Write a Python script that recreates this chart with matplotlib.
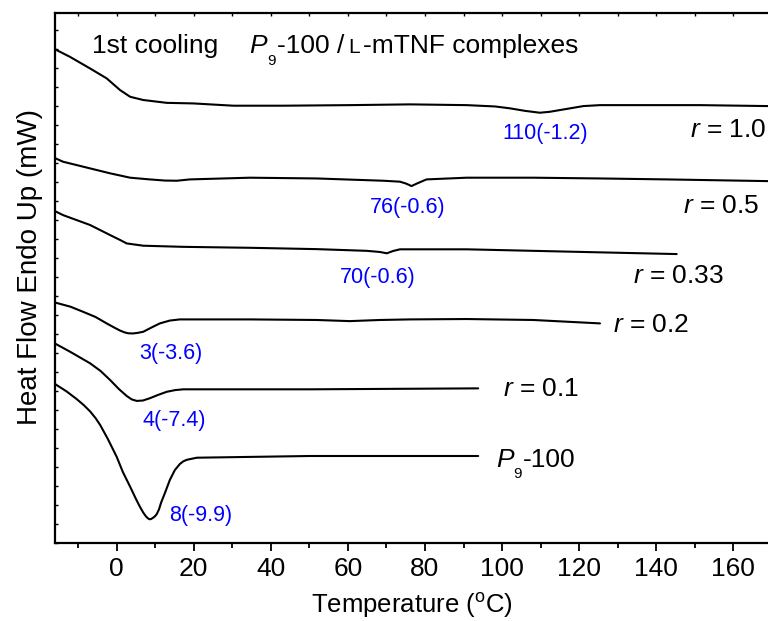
import matplotlib
matplotlib.use('Agg')
import matplotlib.pyplot as plt
from matplotlib.ticker import MultipleLocator, NullFormatter

plt.rcParams['font.family'] = ['Liberation Sans', 'DejaVu Sans']
plt.rcParams['mathtext.fontset'] = 'custom'
plt.rcParams['mathtext.rm'] = 'Liberation Sans'
plt.rcParams['mathtext.it'] = 'Liberation Sans:italic'

# DSC cooling traces, temperature (C) vs. heat flow (offset, a.u.)
t_r10 = [-16.0, -15.6, -12.1, -6.9, -2.6, 0.9, 3.5, 6.9, 13.0, 19.9, 30.3, 43.2, 60.5, 76.1,
         90.8, 98.2, 102.1, 105.9, 109.8, 112.4, 115.0, 121.1, 125.4, 134.0, 151.4, 169.0]
h_r10 = [26.0, 25.95, 25.59, 24.98, 24.46, 23.84, 23.49, 23.32, 23.17, 23.14, 23.02, 23.02, 23.05, 23.09,
         23.05, 22.98, 22.88, 22.75, 22.65, 22.70, 22.79, 23.0, 23.05, 23.05, 23.05, 23.0]

t_r05 = [-16.0, -13.9, -6.9, -1.7, 3.5, 8.6, 12.5, 15.6, 19.0, 34.6, 51.9, 69.2, 73.5, 75.1,
         76.5, 78.2, 80.4, 90.8, 108.1, 125.4, 142.7, 169.0]
h_r05 = [20.26, 20.07, 19.72, 19.46, 19.23, 19.14, 19.08, 19.07, 19.14, 19.23, 19.19, 19.07, 19.02, 18.92,
         18.79, 18.95, 19.14, 19.23, 19.23, 19.19, 19.14, 19.05]

t_r033 = [-16.0, -13.9, -6.9, -1.7, 0.9, 2.6, 6.9, 17.3, 34.6, 51.9, 64.9, 68.3, 70.1, 71.7,
          73.5, 90.8, 108.1, 125.4, 145.3]
h_r033 = [17.47, 17.26, 16.74, 16.21, 15.95, 15.77, 15.65, 15.59, 15.54, 15.47, 15.38, 15.32, 15.25, 15.37,
          15.46, 15.46, 15.38, 15.30, 15.21]

t_r02 = [-16.0, -12.0, -8.7, -5.5, -2.6, -0.8, 0.8, 2.0, 3.0, 4.2, 5.4, 6.9, 9.0, 11.2, 13.8, 16.4,
         34.6, 51.9, 60.5, 68.3, 76.1, 90.8, 108.1, 125.4]
h_r02 = [12.66, 12.44, 12.17, 11.90, 11.56, 11.36, 11.19, 11.09, 11.04, 11.03, 11.06, 11.12, 11.34,
         11.56, 11.71, 11.77, 11.77, 11.74, 11.68, 11.74, 11.77, 11.79, 11.74, 11.56]

t_r01 = [-16.0, -12.1, -6.9, -4.2, -1.7, 0.6, 2.6, 3.9, 5.2, 6.8, 8.6, 10.8, 13.0, 15.2, 17.3, 50.2, 93.8]
h_r01 = [10.5, 10.07, 9.46, 9.06, 8.58, 8.10, 7.74, 7.56, 7.48, 7.50, 7.62, 7.80, 7.96, 8.05, 8.09, 8.09, 8.14]

t_p9 = [-16.0, -13.0, -10.4, -8.6, -6.9, -5.5, -4.3, -2.3, 0.0, 1.6, 3.5, 5.0, 6.0, 6.9, 7.6, 8.1,
        8.5, 8.9, 9.4, 9.9, 10.4, 11.0, 11.5, 12.5, 13.8, 15.1, 16.4, 17.3, 18.2, 20.8, 50.2, 93.8]
h_p9 = [8.37, 7.98, 7.58, 7.27, 6.93, 6.58, 6.22, 5.48, 4.54, 3.74, 2.96, 2.32, 1.92, 1.60, 1.40, 1.30,
        1.25, 1.26, 1.32, 1.40, 1.52, 1.78, 2.11, 2.62, 3.32, 3.84, 4.16, 4.30, 4.38, 4.49, 4.58, 4.58]

# peak temperature (enthalpy) labels
peak_labels = ['110(-1.2)', '76(-0.6)', '70(-0.6)', '3(-3.6)', '4(-7.4)', '8(-9.9)']
peak_x = [111.1, 75.6, 67.7, 14.0, 14.9, 21.8]
peak_y = [21.58, 17.68, 13.95, 9.98, 6.47, 1.47]

ratio_labels = ['1.0', '0.5', '0.33', '0.2', '0.1']
ratio_x = [148.8, 146.9, 134.0, 128.9, 100.3]
ratio_y = [21.37, 17.37, 13.67, 11.12, 7.74]

fig = plt.figure(figsize=(7.68, 6.21), dpi=100)
ax = fig.add_axes([55 / 768, 78 / 621, 713 / 768, 530 / 621])

for t, h in [(t_r10, h_r10), (t_r05, h_r05), (t_r033, h_r033),
             (t_r02, h_r02), (t_r01, h_r01), (t_p9, h_p9)]:
    ax.plot(t, h, color='black', lw=1.5, solid_joinstyle='round', solid_capstyle='round')

for s, x, y in zip(peak_labels, peak_x, peak_y):
    ax.text(x, y, s, color='blue', fontsize=15.5, ha='center', va='center')

for s, x, y in zip(ratio_labels, ratio_x, ratio_y):
    ax.text(x, y, r'$\mathit{r}$ = ' + s, fontsize=19, ha='left', va='baseline')


def p9_text(x, y, x9, x100, tail):
    # italic P with a small lowered 9, then the rest of the label
    ax.text(x, y, 'P', fontsize=19, fontstyle='italic', ha='left', va='baseline')
    ax.text(x9, y - 0.62, '9', fontsize=11, ha='left', va='baseline')
    ax.text(x100, y, tail, fontsize=19, ha='left', va='baseline')


p9_text(98.6, 4.02, 102.9, 105.4, '-100')

# header
ax.text(-6.5, 25.8, '1st cooling', fontsize=19, ha='left', va='baseline')
p9_text(34.4, 25.8, 39.0, 41.5, '-100 /')
ax.text(60.1, 25.8, 'L', fontsize=15, ha='left', va='baseline')
ax.text(63.8, 25.8, '-mTNF complexes', fontsize=19, ha='left', va='baseline')

ax.set_xlim(-16, 169)
ax.set_ylim(0, 27.9)

ax.xaxis.set_major_locator(MultipleLocator(20))
ax.xaxis.set_minor_locator(MultipleLocator(10))
ax.yaxis.set_major_locator(MultipleLocator(1))
ax.yaxis.set_major_formatter(NullFormatter())

ax.tick_params(axis='x', which='major', direction='out', length=6, width=1.3, labelsize=19, pad=4)
ax.tick_params(axis='x', which='minor', direction='out', length=3.5, width=1.3)
ax.tick_params(axis='y', which='major', direction='in', length=2.5, width=1.0)

# inward ticks along the top edge
top = ax.secondary_xaxis('top')
top.xaxis.set_major_locator(MultipleLocator(10))
top.xaxis.set_major_formatter(NullFormatter())
top.tick_params(direction='in', length=2.5, width=1.0)
top.spines['top'].set_visible(False)

ax.spines['right'].set_visible(False)
for side in ['left', 'bottom', 'top']:
    ax.spines[side].set_linewidth(1.6)

ax.set_xlabel(r'Temperature ($^{\mathregular{o}}$C)', fontsize=18.5, labelpad=7)
ax.set_ylabel('Heat Flow Endo Up (mW)', fontsize=20, labelpad=5)
ax.yaxis.label.set_y(0.52)

fig.savefig('out.png', dpi=100)
